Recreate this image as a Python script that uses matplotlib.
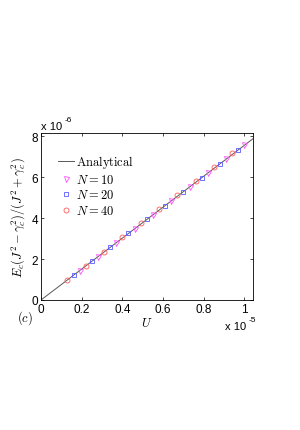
import matplotlib
matplotlib.use("Agg")
import matplotlib.pyplot as plt

plt.rcParams['mathtext.fontset'] = 'cm'
plt.rcParams['font.family'] = ['Liberation Sans', 'DejaVu Sans']

# Data (U in units of 1e-5, E in units of 1e-6)
U_line = [0.0, 1.10]
E_line = [0.0, 8.33]

U_N10 = [0.19, 0.28, 0.37, 0.46, 0.55, 0.64, 0.73, 0.82, 0.91, 1.00]
E_N10 = [1.44, 2.12, 2.80, 3.48, 4.16, 4.84, 5.53, 6.21, 6.89, 7.57]
U_N20 = [0.16, 0.25, 0.34, 0.43, 0.52, 0.61, 0.70, 0.79, 0.88, 0.97]
E_N20 = [1.21, 1.89, 2.57, 3.26, 3.94, 4.62, 5.30, 5.98, 6.66, 7.34]
U_N40 = [0.13, 0.22, 0.31, 0.40, 0.49, 0.58, 0.67, 0.76, 0.85, 0.94]
E_N40 = [0.99, 1.68, 2.37, 3.06, 3.75, 4.44, 5.13, 5.81, 6.50, 7.19]

xticks = [0, 0.2, 0.4, 0.6, 0.8, 1.0]
xticklabels = ['0', '0.2', '0.4', '0.6', '0.8', '1']
yticks = [0, 2, 4, 6, 8]
yticklabels = ['0', '2', '4', '6', '8']

W, H = 300, 431
fig = plt.figure(figsize=(3.0, 4.31), dpi=100)
ax = fig.add_axes([41 / W, 1 - 301 / H, 212 / W, 167 / H])

ax.plot(U_line, E_line, color='0.35', lw=0.7, label=r'$\mathrm{Analytical}$')
ax.plot(U_N10, E_N10, ls='none', marker='v', ms=3.6, mfc='none', mec=(1.0, 0.3, 1.0), mew=0.6,
        label=r'$N=10$')
ax.plot(U_N20, E_N20, ls='none', marker='s', ms=3.2, mfc='none', mec=(0.35, 0.35, 1.0), mew=0.6,
        label=r'$N=20$')
ax.plot(U_N40, E_N40, ls='none', marker='o', ms=3.6, mfc='none', mec=(1.0, 0.35, 0.35), mew=0.6,
        label=r'$N=40$')

ax.set_xlim(0, 1.042)
ax.set_ylim(0, 8.17)
ax.set_xticks(xticks)
ax.set_xticklabels(xticklabels)
ax.set_yticks(yticks)
ax.set_yticklabels(yticklabels)
ax.tick_params(direction='in', top=True, right=True, length=2.5, width=0.5,
               labelsize=8.5, pad=2)
for s in ax.spines.values():
    s.set_linewidth(0.6)

ax.set_xlabel(r'$U$', fontsize=9, labelpad=1)
ax.set_ylabel(r'$E_c(J^2-\gamma_c^2)/(J^2+\gamma_c^2)$', fontsize=9, labelpad=3)

leg = ax.legend(loc='upper left', bbox_to_anchor=(0.04, 0.93), frameon=False, fontsize=9,
                handlelength=1.3, handletextpad=0.15, labelspacing=0.2, borderpad=0.2)

fig.text(25 / W, 1 - 318 / H, r'$(c)$', fontsize=9, ha='center', va='center')
fig.text(41 / W, 1 - 127 / H, 'x 10', fontsize=8, ha='left', va='center')
fig.text(65 / W, 1 - 121 / H, '-6', fontsize=6, ha='left', va='center')
fig.text(225 / W, 1 - 327 / H, 'x 10', fontsize=8, ha='left', va='center')
fig.text(249 / W, 1 - 321 / H, '-5', fontsize=6, ha='left', va='center')

fig.savefig('out.png', dpi=100)
